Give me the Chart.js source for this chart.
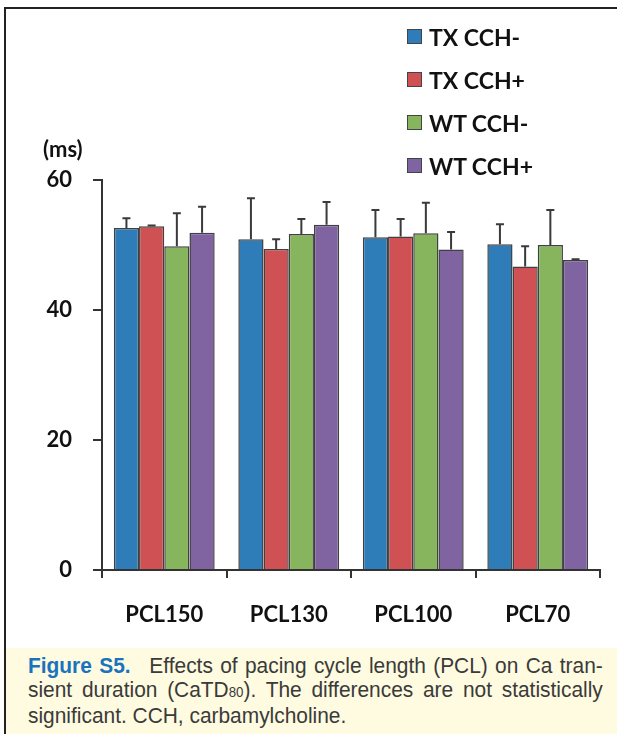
<!DOCTYPE html>
<html><head><meta charset="utf-8">
<script src="https://cdn.jsdelivr.net/npm/chart.js@4"></script>
<style>
html,body{margin:0;padding:0;background:#fff;}
body{width:617px;height:734px;position:relative;overflow:hidden;font-family:Lato,"Open Sans",sans-serif;}
#frame{position:absolute;left:4px;top:7px;width:640px;height:760px;border-left:2px solid #222;border-top:2px solid #222;}
#wrap{position:absolute;left:0;top:0;width:617px;height:648px;}
#ylab{position:absolute;left:43px;top:135px;font:bold 22px Lato,sans-serif;color:#111;}
#legend{position:absolute;left:407px;top:15px;}
.li{height:43px;display:flex;align-items:center;font:bold 23px Lato,sans-serif;color:#111;}
.li span.b{display:inline-block;width:13px;height:13px;border:1.5px solid #444;margin-right:7px;}
#cap{position:absolute;left:6px;top:648px;width:611px;height:86px;background:#fefbe0;overflow:hidden;}
#cap .t{position:absolute;left:22px;top:6px;width:605px;transform:scaleX(0.95);transform-origin:0 0;font:22px "Liberation Sans",sans-serif;color:#3a3a3a;line-height:23.5px;}
#cap .l{text-align:justify;text-align-last:justify;white-space:nowrap;}
#cap .l.last{text-align-last:left;}
#cap b{color:#1a73be;font-weight:bold;margin-right:12px;}
</style></head>
<body>
<div id="frame"></div>
<div id="wrap"><canvas id="c" width="617" height="648"></canvas></div>
<div id="ylab">(ms)</div>
<div id="legend"></div>
<div id="cap"><div class="t">
<div class="l"><b>Figure S5.</b> Effects of pacing cycle length (PCL) on Ca tran-</div>
<div class="l">sient duration (CaTD<span style="font-size:14px">80</span>). The differences are not statistically</div>
<div class="l last">significant. CCH, carbamylcholine.</div>
</div></div>
<script>
const categories = ["PCL150","PCL130","PCL100","PCL70"];
const seriesNames = ["TX CCH-","TX CCH+","WT CCH-","WT CCH+"];
const txMinus = [52.6, 50.9, 51.2, 50.1];
const txPlus  = [52.9, 49.4, 51.3, 46.7];
const wtMinus = [49.8, 51.7, 51.8, 50.0];
const wtPlus  = [51.9, 53.1, 49.3, 47.7];
const txMinusErr = [1.5, 6.3, 4.2, 3.1];
const txPlusErr  = [0.1, 1.5, 2.7, 3.1];
const wtMinusErr = [5.1, 2.3, 4.7, 5.4];
const wtPlusErr  = [4.0, 3.5, 2.7, 0.1];
const yTicks = [0, 20, 40, 60];

const colors = ["#2e7db8","#d05154","#87b55e","#8064a2"];
const values = [txMinus, txPlus, wtMinus, wtPlus];
const errs = [txMinusErr, txPlusErr, wtMinusErr, wtPlusErr];

const leg = document.getElementById('legend');
seriesNames.forEach((n,i)=>{
  const d=document.createElement('div');d.className='li';
  d.innerHTML='<span class="b" style="background:'+colors[i]+'"></span>'+n;
  leg.appendChild(d);
});

const errPlugin = {
  id:'errbars',
  afterDatasetsDraw(chart){
    const ctx=chart.ctx, y=chart.scales.y;
    ctx.save();
    ctx.strokeStyle='#3a3a3a';ctx.lineWidth=2;
    chart.data.datasets.forEach((ds,i)=>{
      const meta=chart.getDatasetMeta(i);
      meta.data.forEach((bar,j)=>{
        const top=y.getPixelForValue(ds.data[j]);
        const e=y.getPixelForValue(ds.data[j]+ds.err[j]);
        ctx.beginPath();
        ctx.moveTo(bar.x,top);ctx.lineTo(bar.x,e);
        ctx.moveTo(bar.x-4,e);ctx.lineTo(bar.x+4,e);
        ctx.stroke();
      });
    });
    ctx.restore();
  }
};

new Chart(document.getElementById('c'),{
  type:'bar',
  data:{labels:categories,datasets:seriesNames.map((n,i)=>({label:n,data:values[i],err:errs[i],backgroundColor:colors[i],borderColor:'#404040',borderWidth:1.5,categoryPercentage:0.81,barPercentage:1}))},
  options:{
    responsive:false,animation:false,
    layout:{padding:{top:180,right:17,left:0,bottom:0}},
    plugins:{legend:{display:false},tooltip:{enabled:false}},
    scales:{
      x:{
        afterFit(s){s.height=78;},
        grid:{display:true,drawOnChartArea:false,drawTicks:true,tickLength:8,color:'#333',lineWidth:2,offset:true},
        border:{color:'#333',width:2},
        ticks:{color:'#111',font:{family:'Lato',weight:'bold',size:22},padding:24}
      },
      y:{
        min:0,max:60,
        afterFit(s){s.width=102;},
        afterBuildTicks(s){s.ticks=yTicks.map(v=>({value:v}));},
        grid:{display:true,drawOnChartArea:false,drawTicks:true,tickLength:9,color:'#333',lineWidth:2},
        border:{color:'#333',width:2},
        ticks:{color:'#111',font:{family:'Lato',weight:'bold',size:22},padding:21}
      }
    }
  },
  plugins:[errPlugin]
});
</script>
</body></html>
